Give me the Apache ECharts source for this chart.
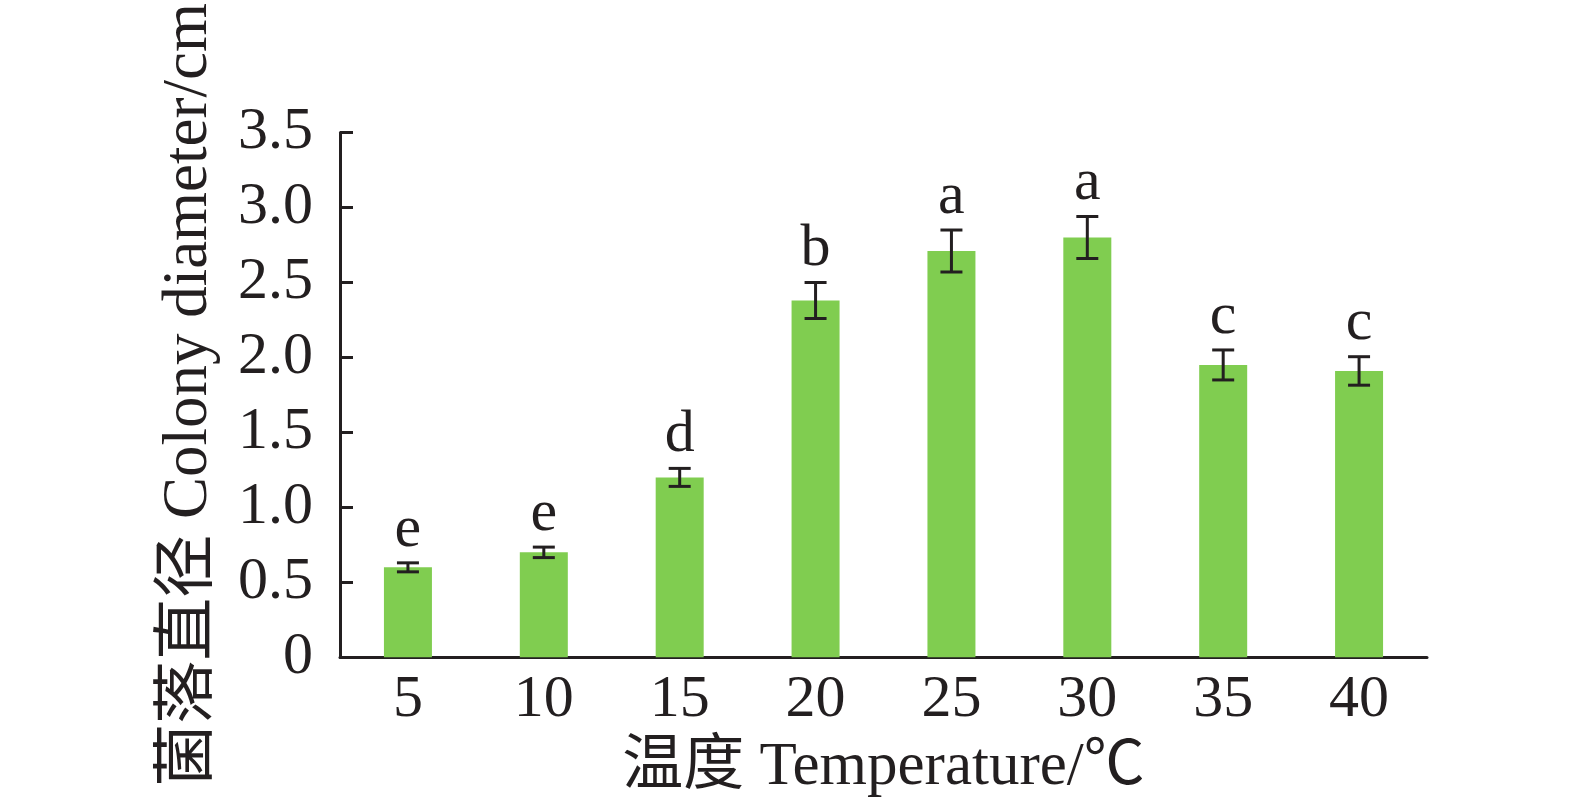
<!DOCTYPE html>
<html>
<head>
<meta charset="utf-8">
<script src="https://cdn.jsdelivr.net/npm/echarts@6/dist/echarts.min.js"></script>
<style>html,body{margin:0;padding:0;background:#fff}#c{width:1575px;height:810px}</style>
</head>
<body>
<div id="c"></div>
<script>
const categories = ['5','10','15','20','25','30','35','40'];
const means = [0.60, 0.70, 1.20, 2.38, 2.71, 2.80, 1.95, 1.91];
const errors = [0.03, 0.035, 0.06, 0.12, 0.14, 0.14, 0.10, 0.095];
const letters = ['e','e','d','b','a','a','c','c'];
const yTicks = ['0','0.5','1.0','1.5','2.0','2.5','3.0','3.5'];

const FONT = '"Liberation Serif", "Noto Sans CJK SC", serif';
const INK = '#231f20';
const chart = echarts.init(document.getElementById('c'));

const errData = means.map((m, i) => [i, m, errors[i]]);

chart.setOption({
  animation: false,
  grid: { left: 340, right: 148, top: 128.6, bottom: 152.7, containLabel: false },
  xAxis: {
    type: 'category',
    data: categories,
    name: '温度 Temperature/℃',
    nameLocation: 'middle',
    nameGap: 80,
    nameTextStyle: { fontFamily: FONT, fontSize: 61, color: INK },
    axisLine: { lineStyle: { color: INK, width: 3 } },
    axisTick: { inside: true, length: 12, lineStyle: { color: INK, width: 3 } },
    axisLabel: { fontFamily: FONT, fontSize: 60, color: INK, margin: 13 }
  },
  yAxis: {
    type: 'value',
    min: 0, max: 3.5, interval: 0.5,
    name: '菌落直径 Colony diameter/cm',
    nameLocation: 'middle',
    nameGap: 119,
    nameRotate: 90,
    nameTextStyle: { fontFamily: FONT, fontSize: 63, color: INK },
    axisLine: { show: true, lineStyle: { color: INK, width: 3 } },
    axisTick: { show: true, inside: true, length: 13, lineStyle: { color: INK, width: 3 } },
    splitLine: { show: false },
    axisLabel: {
      fontFamily: FONT, fontSize: 60, color: INK, margin: 27,
      formatter: (v) => yTicks[Math.round(v / 0.5)]
    }
  },
  series: [
    {
      type: 'bar',
      data: means,
      barWidth: 48,
      itemStyle: { color: '#80cd50' }
    },
    {
      type: 'custom',
      data: errData,
      z: 10,
      renderItem: function (params, api) {
        const i = api.value(0), m = api.value(1), e = api.value(2);
        const top = api.coord([i, m + e]);
        const bot = api.coord([i, m - e]);
        const hw = 11;
        const style = { stroke: INK, lineWidth: 3 };
        return {
          type: 'group',
          children: [
            { type: 'line', shape: { x1: top[0], y1: top[1], x2: bot[0], y2: bot[1] }, style },
            { type: 'line', shape: { x1: top[0] - hw, y1: top[1], x2: top[0] + hw, y2: top[1] }, style },
            { type: 'line', shape: { x1: bot[0] - hw, y1: bot[1], x2: bot[0] + hw, y2: bot[1] }, style },
            { type: 'text', x: top[0], y: top[1] - 3,
              style: { text: letters[params.dataIndex], fontFamily: FONT, fontSize: 60, fill: INK,
                       align: 'center', verticalAlign: 'bottom' } }
          ]
        };
      }
    }
  ]
});
</script>
</body>
</html>
